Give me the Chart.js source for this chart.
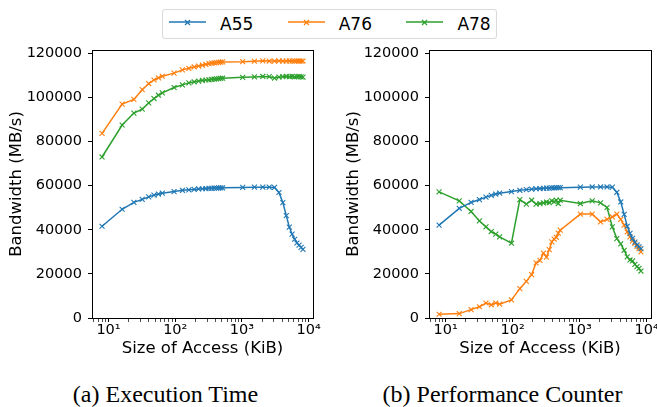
<!DOCTYPE html>
<html>
<head>
<meta charset="utf-8">
<script src="https://cdn.jsdelivr.net/npm/chart.js@4.4.1/dist/chart.umd.min.js"></script>
<style>
  html, body { margin: 0; padding: 0; background: #fff; }
  body { width: 657px; height: 407px; position: relative; overflow: hidden; font-family: "DejaVu Sans", sans-serif; }
  canvas { position: absolute; top: 0; }
  #c1 { left: 0; }
  #c2 { left: 337px; }
  #legend { position: absolute; left: 162px; top: 9px; width: 335px; height: 30px; border: 1px solid #d9d9d9; border-radius: 3px; box-sizing: border-box; background: #fff; }
  #legend svg { position: absolute; top: 5px; }
  #legend span { position: absolute; top: 0; font-size: 17px; line-height: 28px; color: #000; white-space: nowrap; }
  .caption { position: absolute; top: 382px; height: 24px; line-height: 24px; font-family: "Liberation Serif", serif; font-size: 24px; color: #000; white-space: nowrap; transform: translateX(-50%); }
</style>
</head>
<body>
<div id="legend"></div>
<canvas id="c1" width="330" height="360"></canvas>
<canvas id="c2" width="320" height="360"></canvas>
<div class="caption" style="left:165.5px">(a) Execution Time</div>
<div class="caption" style="left:502.5px">(b) Performance Counter</div>
<script>
// access sizes in KiB (x axis, log scale)
const sizesKiB = [8, 16, 24, 32, 40, 48, 56, 64, 96, 128, 160, 192, 224, 256, 288, 320, 352, 384, 416, 448, 480, 512,
  1024, 1536, 2048, 2560, 3072, 3584, 4096, 4608, 5120, 5632, 6144, 6656, 7168, 7680, 8192];

const seriesNames = ['A55', 'A76', 'A78'];
const seriesColors = ['#1f77b4', '#ff7f0e', '#2ca02c'];

// (a) execution time, MB/s
const a55Exec = [41600, 49300, 52400, 53800, 54900, 55700, 56200, 56600, 57300, 57900, 58100, 58300, 58500, 58600, 58700, 58800, 58800, 58900, 58900, 59000, 59000, 59000,
  59200, 59300, 59300, 59300, 59200, 56900, 52300, 46400, 41200, 38000, 35700, 34000, 33000, 32000, 31100];
const a76Exec = [83700, 97000, 99100, 103500, 106300, 107900, 108900, 109600, 111000, 112500, 113200, 113800, 114200, 114600, 115000, 115300, 115500, 115700, 115800, 115900, 116000, 116100,
  116200, 116400, 116600, 116500, 116500, 116600, 116500, 116500, 116600, 116500, 116500, 116600, 116500, 116500, 116500];
const a78Exec = [73000, 87500, 92900, 94700, 97500, 99500, 101000, 102100, 104500, 105700, 106600, 107100, 107400, 107700, 107900, 108000, 108200, 108300, 108400, 108500, 108600, 108700,
  109100, 109300, 109500, 109400, 108800, 109200, 109400, 109500, 109400, 109500, 109300, 109400, 109500, 109300, 109200];

// (b) performance counter, MB/s
const a55Pmu = [42100, 49700, 52400, 53700, 54800, 55600, 56200, 56600, 57300, 57900, 58200, 58400, 58600, 58700, 58800, 58900, 58900, 59000, 59000, 59100, 59100, 59100,
  59300, 59400, 59400, 59400, 59300, 57000, 52600, 47000, 41600, 38400, 36100, 34400, 33200, 32300, 31400];
const a76Pmu = [1700, 2000, 3800, 5100, 6800, 6000, 6800, 6300, 8200, 13300, 16600, 19700, 25000, 26100, 29400, 27600, 31000, 34500, 35800, 36600, 38500, 39800,
  47100, 47100, 43600, 44700, 45800, 47100, 44700, 42100, 39000, 36800, 35000, 33800, 32500, 31500, 30000];
const a78Pmu = [57200, 53100, 48300, 44000, 41300, 39200, 38000, 36800, 33900, 53700, 51600, 53400, 51600, 51900, 52200, 52500, 52300, 53100, 52700, 53400, 51900, 53400,
  51900, 53100, 52200, 50100, 41300, 36000, 33600, 30700, 27700, 26300, 25900, 24300, 23300, 22500, 21300];

// axis ticks
const yTicks = [0, 20000, 40000, 60000, 80000, 100000, 120000];
const xMajorTicks = [10, 100, 1000, 10000];
const xTickLabels = ['10\u00B9', '10\u00B2', '10\u00B3', '10\u2074'];
const xMinorTicks = [6, 7, 8, 9, 20, 30, 40, 50, 60, 70, 80, 90, 200, 300, 400, 500, 600, 700, 800, 900, 2000, 3000, 4000, 5000, 6000, 7000, 8000, 9000];

const xTitle = 'Size of Access (KiB)';
const yTitle = 'Bandwidth (MB/s)';

// draw the legend (shared by both panels)
const legend = document.getElementById('legend');
seriesNames.forEach((name, i) => {
  const x0 = 6 + i * 118.7;
  legend.innerHTML += `<svg style="left:${x0}px" width="37" height="14">
      <line x1="0" y1="7" x2="37" y2="7" stroke="${seriesColors[i]}" stroke-width="1.5"/>
      <path d="M16 5 L21 10 M21 5 L16 10" stroke="${seriesColors[i]}" stroke-width="1.2"/></svg>
    <span style="left:${x0 + 51}px">${name}</span>`;
});

// top/right/left/bottom box around plot area
const frame = {
  id: 'frame',
  afterDatasetsDraw(chart) {
    const {ctx, chartArea: a} = chart;
    ctx.save();
    ctx.strokeStyle = '#000';
    ctx.lineWidth = 1;
    ctx.strokeRect(Math.round(a.left) + 0.5, Math.round(a.top) + 0.5, Math.round(a.right - a.left), Math.round(a.bottom - a.top));
    ctx.restore();
  }
};

const makeChart = (id, values, rightPad) => {
  const datasets = values.map((vals, i) => ({
    label: seriesNames[i],
    data: sizesKiB.map((s, j) => ({x: s, y: vals[j]})),
    borderColor: seriesColors[i],
    backgroundColor: seriesColors[i],
    borderWidth: 1.5,
    pointStyle: 'crossRot',
    pointRadius: 3.5,
    pointBorderWidth: 1.1,
    tension: 0,
    fill: false
  }));

  return new Chart(document.getElementById(id), {
    type: 'line',
    data: {datasets},
    plugins: [frame],
    options: {
      responsive: false,
      devicePixelRatio: 1,
      animation: false,
      events: [],
      layout: {padding: {left: 0, top: 50, right: rightPad, bottom: 0}},
      plugins: {legend: {display: false}, tooltip: {enabled: false}},
      scales: {
        x: {
          type: 'logarithmic',
          min: 5.656,
          max: 11584,
          border: {display: false},
          grid: {display: true, drawOnChartArea: false, drawTicks: true, tickLength: 4, color: '#000',
            tickWidth: c => (c.tick && c.tick.major ? 1 : 0.7)},
          afterBuildTicks: axis => {
            axis.ticks = xMajorTicks.map(v => ({value: v, major: true}))
              .concat(xMinorTicks.map(v => ({value: v})))
              .sort((p, q) => p.value - q.value);
          },
          afterFit: scale => { scale.height = 42; scale.paddingLeft = 0; scale.paddingRight = 0; },
          ticks: {
            autoSkip: false, maxRotation: 0, padding: 0, color: '#000',
            font: {family: 'DejaVu Sans', size: 14.5},
            callback: v => {
              const k = xMajorTicks.indexOf(v);
              return k >= 0 ? xTickLabels[k] : '';
            }
          },
          title: {display: true, text: xTitle, color: '#000', padding: {top: 0, bottom: 1},
            font: {family: 'DejaVu Sans', size: 16.5}}
        },
        y: {
          min: 0,
          max: 121500,
          border: {display: false},
          grid: {display: true, drawOnChartArea: false, drawTicks: true, tickLength: 4, color: '#000'},
          afterBuildTicks: axis => { axis.ticks = yTicks.map(v => ({value: v})); },
          afterFit: scale => { scale.width = 92; scale.paddingTop = 0; scale.paddingBottom = 0; },
          ticks: {padding: 6, color: '#000', font: {family: 'DejaVu Sans', size: 14.5},
            callback: v => String(v)},
          title: {display: true, text: yTitle, color: '#000', padding: {top: 7, bottom: 4},
            font: {family: 'DejaVu Sans', size: 16.5}}
        }
      }
    }
  });
};

makeChart('c1', [a55Exec, a76Exec, a78Exec], 17);
makeChart('c2', [a55Pmu, a76Pmu, a78Pmu], 6);
</script>
</body>
</html>
